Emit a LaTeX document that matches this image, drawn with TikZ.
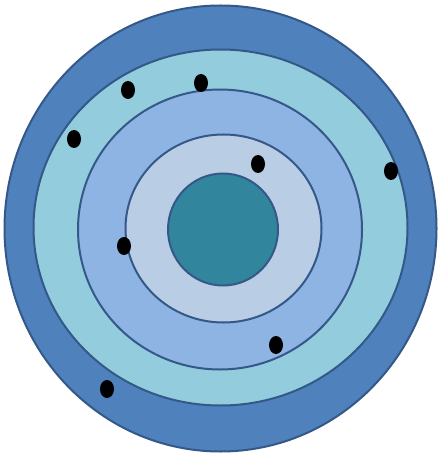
\documentclass[tikz,border=0pt]{standalone}
\usepackage{tikz}
\usetikzlibrary{positioning}
\usepackage{xcolor}
\definecolor{ringline}{RGB}{52,88,136}
\definecolor{outerblue}{RGB}{79,129,189}
\definecolor{lightcyan}{RGB}{147,205,221}
\definecolor{midblue}{RGB}{142,180,227}
\definecolor{paleblue}{RGB}{185,205,229}
\definecolor{coreteal}{RGB}{49,133,156}

\begin{document}
\begin{tikzpicture}[
    x=1pt, y=-1pt,
    ring/.style={draw=ringline, line width=2pt},
    dot/.style={fill=black}
]
    \useasboundingbox (0,0) rectangle (438,454);
    % rings, outside in
    \filldraw [ring, fill=outerblue] (220.5,228.5) ellipse [x radius=216pt, y radius=223pt];
    \filldraw [ring, fill=lightcyan] (220.5,227.5) ellipse [x radius=187pt, y radius=178pt];
    \filldraw [ring, fill=midblue] (220,229.5) ellipse [x radius=142pt, y radius=140pt];
    \filldraw [ring, fill=paleblue] (223.5,228.5) ellipse [x radius=98pt, y radius=94pt];
    \filldraw [ring, fill=coreteal] (223,229.5) ellipse [x radius=55pt, y radius=56pt];
    % dots
    \foreach \px/\py in {128/90, 201/83, 74/139, 258/164, 391/171, 124/246, 276/345, 107/389}
        \fill [dot] (\px,\py) ellipse [x radius=7pt, y radius=9pt];
\end{tikzpicture}
\end{document}
